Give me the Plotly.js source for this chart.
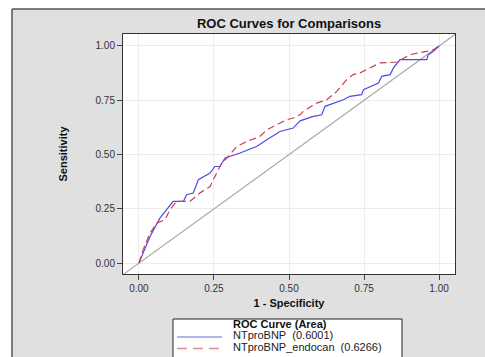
<!DOCTYPE html>
<html>
<head>
<meta charset="utf-8">
<script src="https://cdn.plot.ly/plotly-3.0.1.min.js"></script>
<style>html,body{margin:0;padding:0;background:#fff;}#chart{width:485px;height:357px;}</style>
</head>
<body>
<div id="chart"></div>
<script>
// NTproBNP ROC curve (1 - specificity, sensitivity)
var fprA = [0, 0.037, 0.07, 0.114, 0.148, 0.159, 0.181, 0.198, 0.237, 0.253, 0.27, 0.287, 0.337, 0.392, 0.426, 0.47, 0.514, 0.537, 0.581, 0.609, 0.62, 0.648, 0.681, 0.703, 0.742, 0.748, 0.776, 0.798, 0.809, 0.837, 0.848, 0.87, 0.959, 0.964, 0.981, 1];
var tprA = [0, 0.123, 0.207, 0.284, 0.284, 0.315, 0.323, 0.384, 0.415, 0.445, 0.445, 0.484, 0.507, 0.537, 0.568, 0.606, 0.622, 0.655, 0.676, 0.683, 0.722, 0.737, 0.752, 0.768, 0.776, 0.799, 0.814, 0.829, 0.86, 0.868, 0.899, 0.937, 0.937, 0.96, 0.975, 1];
// NTproBNP_endocan ROC curve
var fprB = [0, 0.014, 0.037, 0.059, 0.087, 0.103, 0.126, 0.17, 0.203, 0.237, 0.259, 0.276, 0.298, 0.326, 0.359, 0.403, 0.426, 0.459, 0.492, 0.514, 0.537, 0.548, 0.592, 0.626, 0.659, 0.692, 0.714, 0.737, 0.77, 0.803, 0.859, 0.903, 0.959, 0.981, 1];
var tprB = [0, 0.061, 0.138, 0.184, 0.2, 0.246, 0.284, 0.284, 0.323, 0.353, 0.415, 0.461, 0.491, 0.537, 0.56, 0.583, 0.614, 0.637, 0.66, 0.668, 0.683, 0.699, 0.737, 0.752, 0.791, 0.845, 0.868, 0.876, 0.899, 0.922, 0.926, 0.96, 0.975, 0.983, 1];
var refLine = [-0.1, 1.1];
var seriesNames = ["NTproBNP\u00a0\u00a0(0.6001)", "NTproBNP_endocan\u00a0\u00a0(0.6266)"];
var legendTitle = "ROC Curve (Area)";
var tickVals = [0, 0.25, 0.5, 0.75, 1];
var tickText = ["0.00", "0.25", "0.50", "0.75", "1.00"];

var colA = "#4b4be6", colB = "#c8404c";
var traces = [
  {x: refLine, y: refLine, mode: "lines", line: {color: "#a8a8a8", width: 1.2}, showlegend: false, hoverinfo: "skip"},
  {x: fprA, y: tprA, mode: "lines", name: seriesNames[0], showlegend: false, line: {color: colA, width: 1.2}},
  {x: fprB, y: tprB, mode: "lines", name: seriesNames[1], showlegend: false, line: {color: colB, width: 1.2, dash: "7px,4px"}}
];

var axisCommon = {
  tickvals: tickVals, ticktext: tickText, ticks: "outside", ticklen: 5, tickcolor: "#444",
  showgrid: true, gridcolor: "#ececec", gridwidth: 1, zeroline: false,
  showline: true, linecolor: "#333", linewidth: 1, mirror: true, automargin: true,
  tickfont: {family: "Liberation Sans, Arial, sans-serif", size: 10, color: "#333"}
};

var F = "Liberation Sans, Arial, sans-serif";
// legend drawn in paper coordinates (plot area 123..455 x 34..274 px)
function px(v) { return (v - 123) / 332; }
function py(v) { return (274 - v) / 240; }

var layout = {
  width: 485, height: 357,
  margin: {l: 123, r: 30, t: 34, b: 83, autoexpand: false},
  paper_bgcolor: "#e0e0e0", plot_bgcolor: "#ffffff",
  title: {text: "<b>ROC Curves for Comparisons</b>", x: 0.596, xanchor: "center", y: 0.933, yanchor: "middle",
          font: {family: F, size: 13, color: "#111"}},
  xaxis: Object.assign({}, axisCommon, {range: [-0.053, 1.053], tickangle: 0,
    title: {text: "<b>1 - Specificity</b>", standoff: 6, font: {family: F, size: 11, color: "#111"}}}),
  yaxis: Object.assign({}, axisCommon, {range: [-0.05, 1.055],
    title: {text: "<b>Sensitivity</b>", standoff: 25, font: {family: "Liberation Sans Narrow, Arial Narrow, sans-serif", size: 11, color: "#111"}}}),
  showlegend: false,
  shapes: [
    {type: "rect", xref: "paper", yref: "paper", x0: -0.5, x1: px(12), y0: -0.6, y1: 1.3, fillcolor: "#ffffff", line: {width: 0}, layer: "below"},
    {type: "rect", xref: "paper", yref: "paper", x0: -0.5, x1: 1.3, y0: py(9), y1: 1.3, fillcolor: "#ffffff", line: {width: 0}, layer: "below"},
    {type: "line", xref: "paper", yref: "paper", x0: px(12), x1: px(12), y0: -0.6, y1: py(9), line: {color: "#555", width: 1.5}},
    {type: "line", xref: "paper", yref: "paper", x0: px(12), x1: 1.3, y0: py(9), y1: py(9), line: {color: "#555", width: 1.5}},
    {type: "rect", xref: "paper", yref: "paper", x0: px(173), x1: px(402), y0: py(360), y1: py(319), fillcolor: "#ffffff", line: {color: "#222", width: 1}},
    {type: "line", xref: "paper", yref: "paper", x0: px(177), x1: px(222), y0: py(337), y1: py(337), line: {color: "#6a6ae8", width: 1.2}},
    {type: "line", xref: "paper", yref: "paper", x0: px(177), x1: px(222), y0: py(348.5), y1: py(348.5), line: {color: "#e09098", width: 1.5, dash: "10px,6px"}}
  ],
  annotations: [
    {xref: "paper", yref: "paper", x: px(231), y: py(324), xanchor: "left", yanchor: "middle", showarrow: false,
     text: "<b>" + legendTitle + "</b>", font: {family: F, size: 11, color: "#111"}},
    {xref: "paper", yref: "paper", x: px(231), y: py(334.5), xanchor: "left", yanchor: "middle", showarrow: false,
     text: seriesNames[0], font: {family: F, size: 11, color: "#222"}},
    {xref: "paper", yref: "paper", x: px(231), y: py(347), xanchor: "left", yanchor: "middle", showarrow: false,
     text: seriesNames[1], font: {family: F, size: 11, color: "#222"}}
  ]
};

Plotly.newPlot("chart", traces, layout, {staticPlot: true, displayModeBar: false});
</script>
</body>
</html>
